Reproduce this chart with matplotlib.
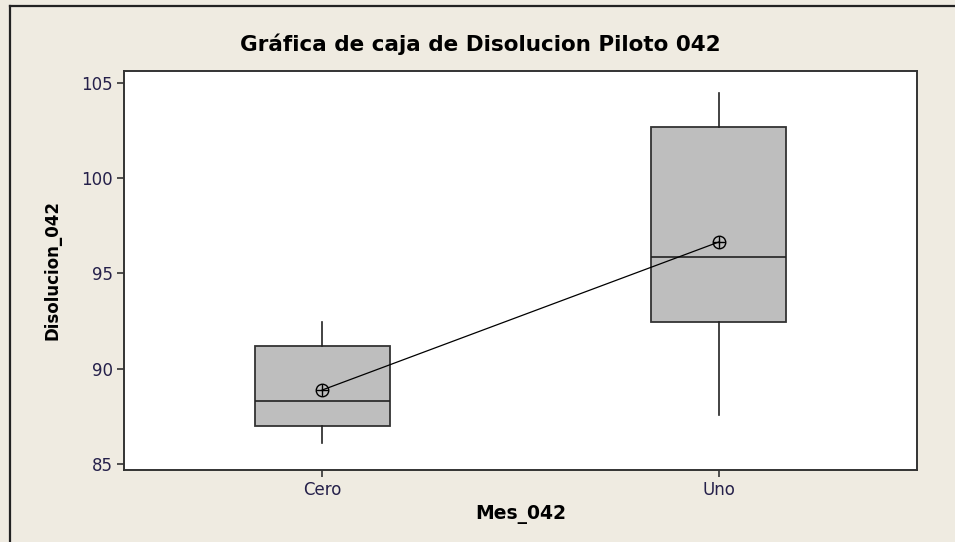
import matplotlib
matplotlib.use("Agg")
import matplotlib.pyplot as plt
from matplotlib.lines import Line2D

plt.rcParams["font.family"] = ["DejaVu Sans"]

categories = ["Cero", "Uno"]
whislo = [86.1, 87.55]
q1 = [86.99, 92.45]
med = [88.3, 95.86]
q3 = [91.2, 102.7]
whishi = [92.45, 104.46]
means = [88.88, 96.65]
yticks = [85, 90, 95, 100, 105]

bg = "#EFEBE1"
fig = plt.figure(figsize=(9.55, 5.42), dpi=100, facecolor=bg)
ax = fig.add_axes([124/955, 1-470/542, (917-124)/955, (470-71)/542])
ax.set_facecolor("white")

stats = []
for i, c in enumerate(categories):
    stats.append(dict(label=c, whislo=whislo[i], q1=q1[i], med=med[i],
                      q3=q3[i], whishi=whishi[i], fliers=[]))
pos = [1, 2]
ax.bxp(stats, positions=pos, widths=0.34, patch_artist=True, showcaps=False,
       boxprops=dict(facecolor="#BEBEBE", edgecolor="#333333", linewidth=1.3),
       medianprops=dict(color="#222222", linewidth=1.2),
       whiskerprops=dict(color="#222222", linewidth=1.2),
       manage_ticks=False)
ax.plot(pos, means, color="black", linewidth=0.9, zorder=5)
ax.plot(pos, means, linestyle="none", marker="o", markersize=9,
        markerfacecolor="none", markeredgecolor="black", markeredgewidth=1.0, zorder=6)
ax.plot(pos, means, linestyle="none", marker="+", markersize=9,
        color="black", markeredgewidth=1.0, zorder=6)

ax.set_xlim(0.5, 2.5)
ax.set_ylim(84.68, 105.63)
ax.set_xticks(pos)
ax.set_xticklabels(categories)
ax.set_yticks(yticks)
for s in ax.spines.values():
    s.set_color("#333333")
    s.set_linewidth(1.4)
ax.tick_params(axis="both", direction="out", length=5, width=1.2, color="#333333",
               labelsize=12, labelcolor="#25204a", pad=3)

ax.set_xlabel("Mes_042", fontsize=13.5, fontweight="bold", labelpad=4)
ax.set_ylabel("Disolucion_042", fontsize=12, fontweight="bold", labelpad=14)
fig.text(0.503, 1-44/542, "Gráfica de caja de Disolucion Piloto 042",
         ha="center", va="center", fontsize=15.5, fontweight="bold")

fig.add_artist(Line2D([10/955, 10/955], [0, 1-6/542], transform=fig.transFigure,
                      color="#222222", linewidth=1.6))
fig.add_artist(Line2D([10/955, 1], [1-6/542, 1-6/542], transform=fig.transFigure,
                      color="#222222", linewidth=1.6))

fig.savefig("out.png", dpi=100, facecolor=bg)
